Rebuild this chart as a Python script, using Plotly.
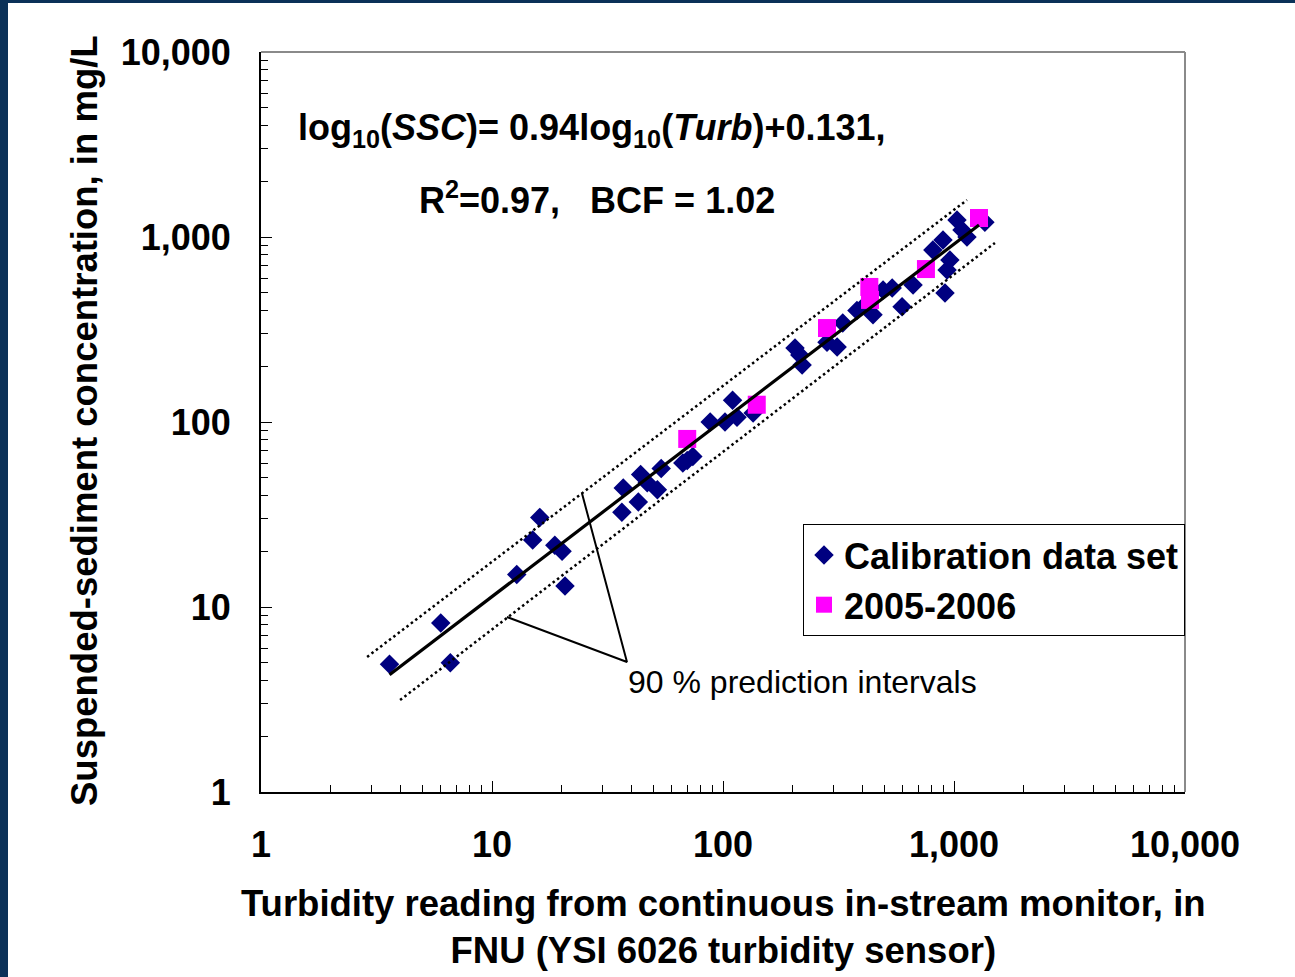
import plotly.graph_objects as go

# ---------------- data ----------------
cal_turb = [3.6, 6.0, 6.6, 12.8, 15.0, 16.1, 18.7, 20.1, 20.7, 36.5, 37, 43, 44, 47, 52, 54,
            67, 70, 74, 88, 102, 110, 115, 135, 205, 215, 220, 282, 312, 330, 380, 420, 446,
            493, 540, 596, 665, 810, 896, 960, 933, 914, 1030, 1083, 1138, 1360]
cal_ssc = [4.9, 8.2, 5.0, 15, 23, 30.5, 21.6, 20, 13, 32.5, 44, 37, 52, 47, 43, 56,
           60, 62, 65, 100, 100, 131, 106, 112, 251, 230, 203, 270, 254, 343, 400, 440, 380,
           517, 530, 420, 550, 850, 964, 750, 663, 498, 1236, 1091, 1000, 1200]

new_turb = [70, 140, 282, 430, 433, 756, 1283]
new_ssc = [81, 124, 322, 537, 457, 671, 1267]

fit_turb = [3.6, 1283]
fit_ssc = [4.3, 1161]

upper_turb = [2.88, 1138]
upper_ssc = [5.37, 1585]
lower_turb = [4.0, 1504]
lower_ssc = [3.14, 929]

pointer_turb = [11.6, 38.4, 24.5]
pointer_ssc = [8.83, 5.04, 41.3]

tick_vals = [1, 10, 100, 1000, 10000]
tick_text = ["1", "10", "100", "1,000", "10,000"]

series_names = ["Calibration data set", "2005-2006"]
eq_line1 = "log<sub>10</sub>(<i>SSC</i>)= 0.94log<sub>10</sub>(<i>Turb</i>)+0.131,"
eq_line2 = "R<sup>2</sup>=0.97,   BCF = 1.02"
pi_label = "90 % prediction intervals"
x_title = "Turbidity reading from continuous in-stream monitor, in<br>FNU (YSI 6026 turbidity sensor)"
y_title = "Suspended-sediment concentration, in mg/L"

# ---------------- layout constants ----------------
W, H = 1295, 977
ML, MR, MT, MB = 261, 110, 52, 185
PW, PH = W - ML - MR, H - MT - MB
FONT = "Liberation Sans, Arial, sans-serif"
NAVY = "#000080"
FRAME = "#0b3158"


def px_x(px):
    return (px - ML) / PW


def px_y(py):
    return (H - MB - py) / PH


fig = go.Figure()
fig.add_trace(go.Scatter(x=cal_turb, y=cal_ssc, mode="markers", name=series_names[0],
                         marker=dict(symbol="diamond", size=15, color=NAVY, line=dict(width=0))))
fig.add_trace(go.Scatter(x=new_turb, y=new_ssc, mode="markers", name=series_names[1],
                         marker=dict(symbol="square", size=18, color="#FF00FF", line=dict(width=0))))
fig.add_trace(go.Scatter(x=fit_turb, y=fit_ssc, mode="lines", showlegend=False,
                         line=dict(color="black", width=3.2)))
for xs, ys in ((upper_turb, upper_ssc), (lower_turb, lower_ssc)):
    fig.add_trace(go.Scatter(x=xs, y=ys, mode="lines", showlegend=False,
                             line=dict(color="black", width=2.5, dash="2.5px,3px")))
fig.add_trace(go.Scatter(x=pointer_turb, y=pointer_ssc, mode="lines", showlegend=False,
                         line=dict(color="black", width=2)))

axis_common = dict(
    type="log", showgrid=False, zeroline=False,
    showline=True, linecolor="black", linewidth=2,
    ticks="inside", ticklen=11, tickwidth=1, tickcolor="black",
    minor=dict(ticks="inside", ticklen=7, tickwidth=1, tickcolor="black", dtick="D1", showgrid=False),
    tickmode="array", tickvals=tick_vals, ticktext=tick_text,
    tickfont=dict(family=FONT, size=36, color="black", weight="bold"),
)

fig.update_xaxes(range=[0, 4], ticklabelstandoff=20, **axis_common)
fig.update_yaxes(range=[0, 4], ticklabelstandoff=21, **axis_common)

shapes = [
    dict(type="line", xref="paper", yref="paper", x0=0, x1=1, y0=1, y1=1,
         line=dict(color="#8a8a8a", width=2)),
    dict(type="line", xref="paper", yref="paper", x0=1, x1=1, y0=0, y1=1,
         line=dict(color="#8a8a8a", width=2)),
    dict(type="rect", xref="paper", yref="paper", x0=px_x(0), x1=px_x(8), y0=px_y(H), y1=px_y(0),
         fillcolor=FRAME, line=dict(width=0), layer="above"),
    dict(type="rect", xref="paper", yref="paper", x0=px_x(0), x1=px_x(W), y0=px_y(3), y1=px_y(0),
         fillcolor=FRAME, line=dict(width=0), layer="above"),
]


def ann(text, cx, cy, size, bold=True, angle=0):
    return dict(text=text, xref="paper", yref="paper", x=px_x(cx), y=px_y(cy),
                xanchor="center", yanchor="middle", showarrow=False, textangle=angle,
                font=dict(family=FONT, size=size, color="black",
                          weight="bold" if bold else "normal"))


annotations = [
    ann(eq_line1, 592, 130, 36),
    ann(eq_line2, 597, 198, 36),
    ann(pi_label, 802, 682, 32, bold=False),
    ann(y_title, 84, 421, 36.5, angle=-90),
    ann(x_title, 723, 927, 36.5),
]

fig.update_layout(
    width=W, height=H,
    margin=dict(l=ML, r=MR, t=MT, b=MB, pad=0),
    paper_bgcolor="white", plot_bgcolor="white",
    shapes=shapes, annotations=annotations,
    legend=dict(x=1, xanchor="right", y=px_y(524), yanchor="top",
                bgcolor="white", bordercolor="black", borderwidth=1,
                font=dict(family=FONT, size=36, color="black", weight="bold"),
                itemsizing="trace", tracegroupgap=0),
)

fig.write_html("out.html")
